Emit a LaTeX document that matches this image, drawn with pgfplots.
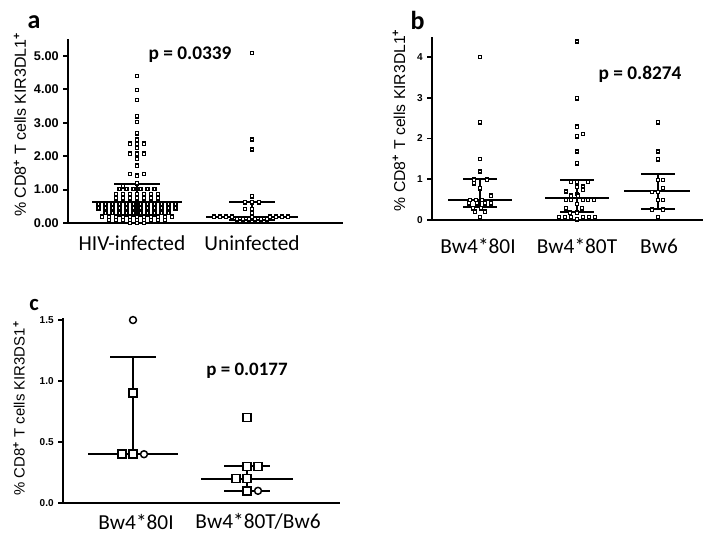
\documentclass[border=0pt]{standalone}
\usepackage{fontspec}
\setmainfont{Carlito}
\newfontfamily\arial{Liberation Sans}
\usepackage{pgfplots}
\pgfplotsset{compat=1.18}

% panel a: x in px-like units (HIV-infected centred at 137, Uninfected at 252)
\pgfplotstableread{
x y
137 4.40
137 3.98
137 3.68
137 3.19
137 3.02
137 2.69
137 2.49
130 2.37
137 2.37
144 2.37
137 2.25
130 2.07
137 2.07
144 2.07
137 1.92
137 1.72
130 1.47
144 1.47
137 1.42
137 1.19
123 1.10
119.5 1.02
126.5 1.02
133.5 1.02
140.5 1.02
147.5 1.02
154.5 1.02
116 0.87
123 0.87
130 0.87
137 0.87
144 0.87
151 0.87
158 0.87
116 0.74
123 0.74
130 0.74
137 0.74
144 0.74
151 0.74
158 0.74
98.5 0.56
105.5 0.56
112.5 0.56
119.5 0.56
126.5 0.56
133.5 0.56
140.5 0.56
147.5 0.56
154.5 0.56
161.5 0.56
168.5 0.56
175.5 0.56
98.5 0.44
105.5 0.44
112.5 0.44
119.5 0.44
126.5 0.44
133.5 0.44
140.5 0.44
147.5 0.44
154.5 0.44
161.5 0.44
168.5 0.44
175.5 0.44
105.5 0.31
112.5 0.31
119.5 0.31
126.5 0.31
133.5 0.31
140.5 0.31
147.5 0.31
154.5 0.31
161.5 0.31
168.5 0.31
102 0.19
109 0.19
116 0.19
123 0.19
130 0.19
137 0.19
144 0.19
151 0.19
158 0.19
165 0.19
172 0.19
109 0.09
116 0.09
123 0.09
130 0.09
137 0.09
144 0.09
151 0.09
158 0.09
165 0.09
130 0.00
137 0.00
144 0.00
}\hiv
\pgfplotstableread{
x y
252 5.09
252 2.50
252 2.20
252 0.80
245 0.62
252 0.62
259 0.62
245 0.42
252 0.42
252 0.30
214 0.19
220 0.19
226 0.19
232 0.19
252 0.19
270 0.19
276 0.19
282 0.19
288 0.19
237 0.11
243 0.11
249 0.11
255 0.11
261 0.11
267 0.11
}\uninf
% panel b: Bw4*80I at 480, Bw4*80T at 577, Bw6 at 658
\pgfplotstableread{
x y
480 4.00
480 2.40
480 1.50
480 1.19
474 0.99
487 0.99
474 0.90
480 0.78
491 0.60
470 0.49
476 0.49
482 0.49
469 0.41
477 0.41
485 0.41
491 0.41
473 0.29
481 0.29
475 0.20
485 0.20
480 0.07
}\bwi
\pgfplotstableread{
x y
577 4.38
577 2.99
577 2.29
583 2.11
577 2.05
577 1.68
577 1.39
571 0.94
577 0.94
588 0.94
577 0.82
583 0.82
583 0.74
566 0.70
577 0.64
571 0.60
578 0.60
566 0.49
571 0.49
583 0.49
588 0.49
594 0.49
577 0.39
566 0.29
582 0.29
570 0.18
577 0.18
559 0.07
565 0.07
571 0.07
583 0.07
589 0.07
595 0.07
577 0.02
}\bwt
\pgfplotstableread{
x y
658 2.40
658 1.68
658 1.49
658 0.98
663 0.98
663 0.78
652 0.69
658 0.69
658 0.49
663 0.49
652 0.25
663 0.25
658 0.07
}\bwsix
% panel c
\pgfplotstableread{
x y
133 0.9
122 0.4
133 0.4
247 0.7
247 0.3
258 0.3
236 0.2
247 0.2
247 0.1
}\csq
\pgfplotstableread{
x y
133 1.5
144 0.4
258 0.1
}\ccirc

\pgfplotsset{
  dotplot/.style={
    scale only axis, clip=false,
    axis x line=bottom, axis y line=left,
    axis line style={line width=1.8pt,-},
    tick align=outside, major tick length=3.5pt,
    ytick style={line width=1.4pt,black},
    xtick style={draw=none},
    ymin=0,
    xticklabel style={font=\fontsize{16}{18}\selectfont, anchor=center},
    ylabel style={font=\arial\fontsize{12}{14}\selectfont, anchor=center},
    /pgf/number format/assume math mode=true,
  },
  pts/.style={only marks, mark=square*, mark size=1.25pt,
    mark options={draw=black, fill=white, line width=1.05pt, solid}},
  med/.style={black, line width=1.4pt, no marks},
}

\begin{document}
\begin{tikzpicture}
\path[use as bounding box] (0,0) rectangle (534pt,402pt);

% ---------------- panel a ----------------
\begin{axis}[dotplot, at={(51pt,234.75pt)}, anchor=south west,
  width=206.25pt, height=137.8pt, xmin=68, xmax=343, ymax=5.5,
  ytick={0,1,2,3,4,5},
  yticklabel style={font=\arial\bfseries\fontsize{9.5}{11}\selectfont,
    /pgf/number format/fixed, /pgf/number format/fixed zerofill,
    /pgf/number format/precision=2},
  xtick={132,252}, xticklabels={HIV-infected, Uninfected},
  xticklabel style={yshift=-12pt},
  ylabel={\% CD8\textsuperscript{\textbf{+}} T cells KIR3DL1\textsuperscript{\textbf{+}}},
  ylabel style={at={(axis description cs:-0.1745,0.535)}}]
\addplot[med] coordinates {(92,0.63) (182,0.63)};
\addplot[med] coordinates {(114,1.18) (160,1.18)};
\addplot[med] coordinates {(114,0.22) (160,0.22)};
\addplot[med] coordinates {(137,0.22) (137,1.18)};
\addplot[med] coordinates {(206,0.19) (298,0.19)};
\addplot[med] coordinates {(229,0.62) (275,0.62)};
\addplot[med] coordinates {(229,0.10) (275,0.10)};
\addplot[med] coordinates {(252,0.10) (252,0.62)};
\addplot[pts] table {\hiv};
\addplot[pts] table {\uninf};
\end{axis}

% ---------------- panel b ----------------
\begin{axis}[dotplot, at={(324pt,237pt)}, anchor=south west,
  width=203.25pt, height=137.55pt, xmin=432, xmax=703, ymax=4.5,
  ytick={0,1,2,3,4},
  yticklabel style={font=\arial\bfseries\fontsize{7.5}{9}\selectfont},
  xtick={478,577,659}, xticklabels={Bw4*80I, Bw4*80T, Bw6},
  xticklabel style={yshift=-16pt},
  ylabel={\% CD8\textsuperscript{\textbf{+}} T cells KIR3DL1\textsuperscript{\textbf{+}}},
  ylabel style={at={(axis description cs:-0.122,0.545)}, font=\arial\fontsize{11.8}{14}\selectfont}]
\addplot[med] coordinates {(448,0.50) (512,0.50)};
\addplot[med] coordinates {(463,1.00) (497,1.00)};
\addplot[med] coordinates {(463,0.31) (497,0.31)};
\addplot[med] coordinates {(480,0.31) (480,1.00)};
\addplot[med] coordinates {(545,0.55) (609,0.55)};
\addplot[med] coordinates {(560,0.98) (594,0.98)};
\addplot[med] coordinates {(560,0.20) (594,0.20)};
\addplot[med] coordinates {(577,0.20) (577,0.98)};
\addplot[med] coordinates {(624,0.71) (690,0.71)};
\addplot[med] coordinates {(641,1.13) (675,1.13)};
\addplot[med] coordinates {(641,0.27) (675,0.27)};
\addplot[med] coordinates {(658,0.27) (658,1.13)};
\addplot[pts] table {\bwi};
\addplot[pts] table {\bwt};
\addplot[pts] table {\bwsix};
\end{axis}

% ---------------- panel c ----------------
\begin{axis}[dotplot, at={(47.25pt,24.75pt)}, anchor=south west,
  width=207.75pt, height=139.05pt, xmin=63, xmax=340, ymax=1.52,
  ytick={0,0.5,1,1.5},
  yticklabel style={font=\arial\bfseries\fontsize{7.5}{9}\selectfont,
    /pgf/number format/fixed, /pgf/number format/fixed zerofill,
    /pgf/number format/precision=1},
  xtick={136,258}, xticklabels={Bw4*80I, Bw4*80T/Bw6},
  xticklabel style={yshift=-10.5pt},
  ylabel={\% CD8\textsuperscript{\textbf{+}} T cells KIR3DS1\textsuperscript{\textbf{+}}},
  ylabel style={at={(axis description cs:-0.159,0.51)}, font=\arial\fontsize{11.2}{13}\selectfont}]
\addplot[med] coordinates {(88,0.4) (178,0.4)};
\addplot[med] coordinates {(110,1.2) (156,1.2)};
\addplot[med] coordinates {(133,0.4) (133,1.2)};
\addplot[med] coordinates {(201,0.2) (293,0.2)};
\addplot[med] coordinates {(224,0.3) (270,0.3)};
\addplot[med] coordinates {(224,0.1) (270,0.1)};
\addplot[med] coordinates {(247,0.1) (247,0.3)};
\addplot[only marks, mark=square*, mark size=3pt,
  mark options={draw=black, fill=white, line width=1.1pt}] table {\csq};
\addplot[only marks, mark=*, mark size=2.6pt,
  mark options={draw=black, fill=white, line width=1.1pt}] table {\ccirc};
\end{axis}

% panel letters and p-values
\node[anchor=base, font=\bfseries\fontsize{19.5}{20}\selectfont] at (25.5pt,380.8pt) {a};
\node[anchor=base, font=\bfseries\fontsize{19.5}{20}\selectfont] at (313.1pt,380pt) {b};
\node[anchor=base, font=\bfseries\fontsize{17}{18}\selectfont] at (25.5pt,169.5pt) {c};
\node[anchor=base, font=\bfseries\fontsize{14.5}{16}\selectfont] at (142.5pt,357pt) {p = 0.0339};
\node[anchor=base, font=\bfseries\fontsize{14.5}{16}\selectfont] at (480pt,342pt) {p = 0.8274};
\node[anchor=base, font=\bfseries\fontsize{14.2}{16}\selectfont] at (185.25pt,120.75pt) {p = 0.0177};
\end{tikzpicture}
\end{document}
